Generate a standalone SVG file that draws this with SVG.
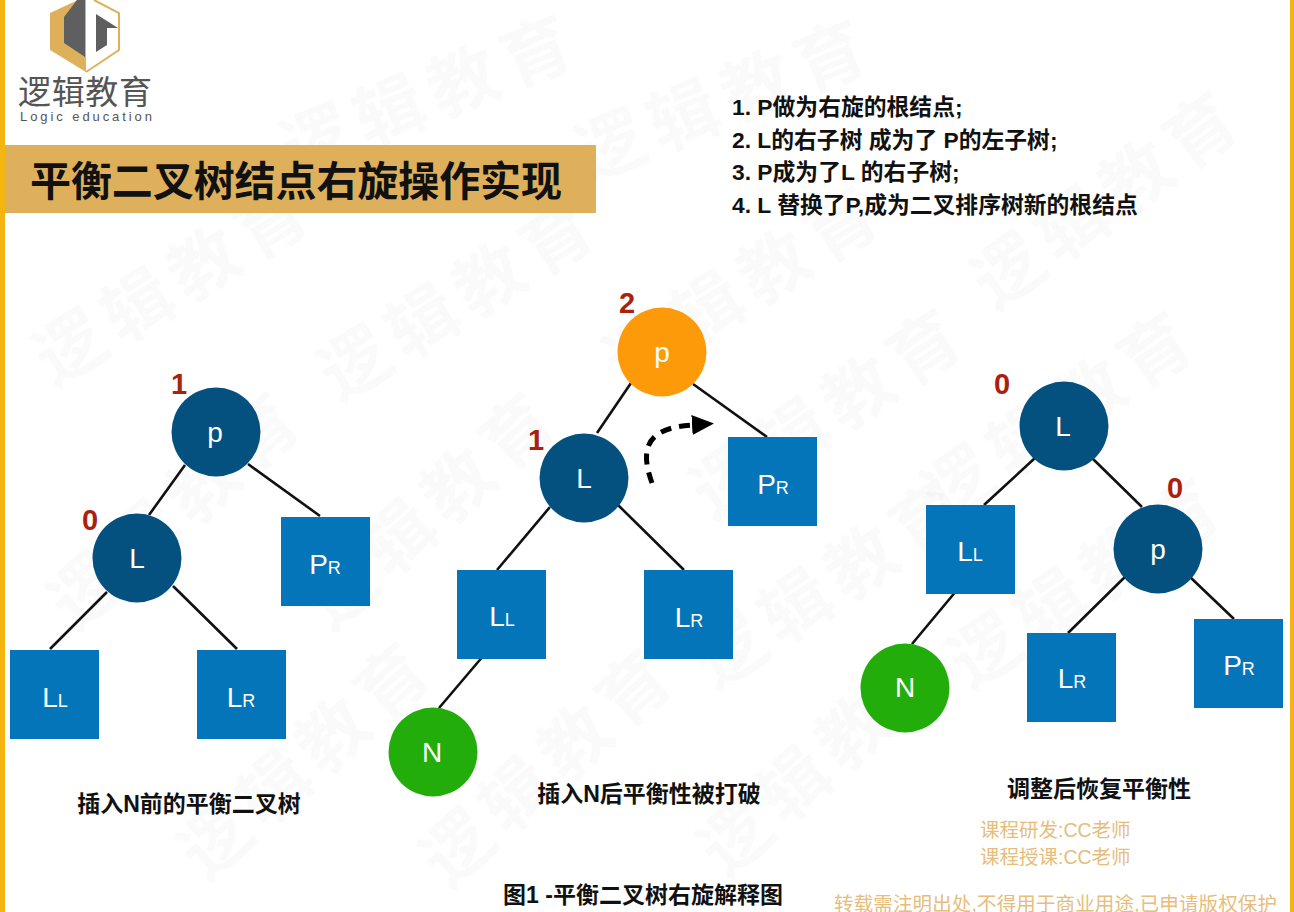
<svg xmlns="http://www.w3.org/2000/svg" width="1294" height="912" viewBox="0 0 1294 912">
<style>
text{font-family:"Liberation Sans","Noto Sans CJK SC",sans-serif}
.c{fill:#04517f}
.s{fill:#0375b8}
.t{fill:#fff;font-size:28px;text-anchor:middle}
.sub{font-size:18px}
.b{fill:#a9210f;font-size:29px;font-weight:bold;text-anchor:middle}
.cap{fill:#111;font-size:23px;font-weight:bold;text-anchor:middle}
.n{fill:#111;font-size:22.800px;font-weight:bold}
.o{fill:#e6bd7c;font-size:19.500px}
.w{fill:#000;fill-opacity:.018;font-size:70px;font-weight:bold;letter-spacing:9px}
.e{stroke:#111;stroke-width:2.600;fill:none}
</style>
<defs><marker id="ah" markerWidth="22" markerHeight="20" refX="0" refY="10" orient="auto" markerUnits="userSpaceOnUse" viewBox="0 0 22 20"><path d="M0 0L22 10L0 20Z" fill="#000"/></marker></defs>
<rect width="1294" height="912" fill="#fff"/>
<rect x="0" width="5" height="912" fill="#f5b50f"/>
<rect x="1290" width="4" height="912" fill="#f5b50f"/>
<g id="watermark">
<text class="w" x="-35" y="26" transform="translate(70 347) rotate(-32)">逻辑教育</text>
<text class="w" x="-35" y="26" transform="translate(355 363) rotate(-32)">逻辑教育</text>
<text class="w" x="-35" y="26" transform="translate(640 350) rotate(-32)">逻辑教育</text>
<text class="w" x="-35" y="26" transform="translate(316 140) rotate(-22)">逻辑教育</text>
<text class="w" x="-35" y="26" transform="translate(610 145) rotate(-22)">逻辑教育</text>
<text class="w" x="-35" y="26" transform="translate(1008 270) rotate(-36)">逻辑教育</text>
<text class="w" x="-35" y="26" transform="translate(85 590) rotate(-42)">逻辑教育</text>
<text class="w" x="-35" y="26" transform="translate(340 590) rotate(-42)">逻辑教育</text>
<text class="w" x="-35" y="26" transform="translate(727 480) rotate(-34)">逻辑教育</text>
<text class="w" x="-35" y="26" transform="translate(958 483) rotate(-34)">逻辑教育</text>
<text class="w" x="-35" y="26" transform="translate(730 650) rotate(-34)">逻辑教育</text>
<text class="w" x="-35" y="26" transform="translate(985 650) rotate(-34)">逻辑教育</text>
<text class="w" x="-35" y="26" transform="translate(215 840) rotate(-42)">逻辑教育</text>
<text class="w" x="-35" y="26" transform="translate(457 847) rotate(-42)">逻辑教育</text>
<text class="w" x="-35" y="26" transform="translate(735 837) rotate(-42)">逻辑教育</text>
</g>
<g id="logo">
<path d="M78 0L50 13V50L86 72V0Z" fill="#dfb05c"/>
<path d="M94 0L119 13V50L86 72" fill="#fff" stroke="#dfb05c" stroke-width="2"/>
<path d="M77 0H85V57L64 43V17Z" fill="#5f5f60"/>
<path d="M96 14L118 28H107V45L96 52Z" fill="#5f5f60"/>
<text x="18" y="104" font-size="33" fill="#555" textLength="134">逻辑教育</text>
<text x="20" y="121" font-size="13" fill="#555" textLength="132" lengthAdjust="spacing" font-family="Lato">Logic education</text>
</g>
<g id="title">
<rect x="5" y="145" width="591" height="68" fill="#dfb05c"/>
<text x="30" y="196" font-size="41" font-weight="bold" fill="#111" textLength="532">平衡二叉树结点右旋操作实现</text>
</g>
<g id="steps">
<text class="n" x="732" y="115">1. P做为右旋的根结点;</text>
<text class="n" x="732" y="148">2. L的右子树 成为了 P的左子树;</text>
<text class="n" x="732" y="180">3. P成为了L 的右子树;</text>
<text class="n" x="732" y="213">4. L 替换了P,成为二叉排序树新的根结点</text>
</g>
<g id="connectors">
<path class="e" d="M185 465L149 515M248 464L320 516M107 592L50 649M173 586L237 649"/>
<path class="e" d="M631 383L597 433M693 384L767 437M550 507L497 570M618 505L684 570M484 655L439 708"/>
<path class="e" d="M1035 458L984 505M1092 458L1142 507M957 590L912 644M1130 572L1068 633M1190 577L1234 619"/>
<path d="M652 483C640 450 645 428 692 425" fill="none" stroke="#000" stroke-width="5" stroke-dasharray="11 8" marker-end="url(#ah)"/>
</g>
<g id="tree1">
<g id="t1-p"><circle class="c" cx="216" cy="432" r="44.500"/><text class="t" x="215" y="442">p</text></g>
<g id="t1-L"><circle class="c" cx="137" cy="558" r="44.500"/><text class="t" x="137" y="568">L</text></g>
<g id="t1-PR"><rect class="s" x="281" y="517" width="89" height="89"/><text class="t" x="325" y="574">P<tspan class="sub">R</tspan></text></g>
<g id="t1-LL"><rect class="s" x="10" y="650" width="89" height="89"/><text class="t" x="55" y="707">L<tspan class="sub">L</tspan></text></g>
<g id="t1-LR"><rect class="s" x="197" y="650" width="89" height="89"/><text class="t" x="241" y="707">L<tspan class="sub">R</tspan></text></g>
<text class="b" x="179" y="394">1</text>
<text class="b" x="90" y="530">0</text>
<text class="cap" x="189" y="812">插入N前的平衡二叉树</text>
</g>
<g id="tree2">
<g id="t2-p"><circle cx="662" cy="352" r="44.500" fill="#fd9a0a"/><text class="t" x="662" y="362">p</text></g>
<g id="t2-L"><circle class="c" cx="584" cy="478" r="44.500"/><text class="t" x="584" y="488">L</text></g>
<g id="t2-PR"><rect class="s" x="728" y="437" width="89" height="89"/><text class="t" x="773" y="494">P<tspan class="sub">R</tspan></text></g>
<g id="t2-LL"><rect class="s" x="457" y="570" width="89" height="89"/><text class="t" x="502" y="626">L<tspan class="sub">L</tspan></text></g>
<g id="t2-LR"><rect class="s" x="644" y="570" width="89" height="89"/><text class="t" x="689" y="627">L<tspan class="sub">R</tspan></text></g>
<g id="t2-N"><circle cx="433" cy="752" r="44.500" fill="#22ad0b"/><text class="t" x="432" y="762">N</text></g>
<text class="b" x="627" y="313">2</text>
<text class="b" x="536" y="450">1</text>
<text class="cap" x="649" y="802">插入N后平衡性被打破</text>
</g>
<g id="tree3">
<g id="t3-L"><circle class="c" cx="1064" cy="426" r="44.500"/><text class="t" x="1063" y="436">L</text></g>
<g id="t3-p"><circle class="c" cx="1158" cy="549" r="44.500"/><text class="t" x="1158" y="559">p</text></g>
<g id="t3-LL"><rect class="s" x="926" y="505" width="89" height="89"/><text class="t" x="970" y="561">L<tspan class="sub">L</tspan></text></g>
<g id="t3-N"><circle cx="905" cy="688" r="44.500" fill="#22ad0b"/><text class="t" x="905" y="697">N</text></g>
<g id="t3-LR"><rect class="s" x="1027" y="633" width="89" height="89"/><text class="t" x="1072" y="688">L<tspan class="sub">R</tspan></text></g>
<g id="t3-PR"><rect class="s" x="1194" y="619" width="89" height="89"/><text class="t" x="1239" y="675">P<tspan class="sub">R</tspan></text></g>
<text class="b" x="1002" y="394">0</text>
<text class="b" x="1175" y="498">0</text>
<text class="cap" x="1099" y="797">调整后恢复平衡性</text>
</g>
<g id="footer">
<text class="o" x="980" y="837">课程研发:CC老师</text>
<text class="o" x="980" y="864">课程授课:CC老师</text>
<text class="o" x="834" y="911" textLength="443">转载需注明出处,不得用于商业用途,已申请版权保护</text>
<text class="cap" x="643" y="903">图1 -平衡二叉树右旋解释图</text>
</g>
</svg>
